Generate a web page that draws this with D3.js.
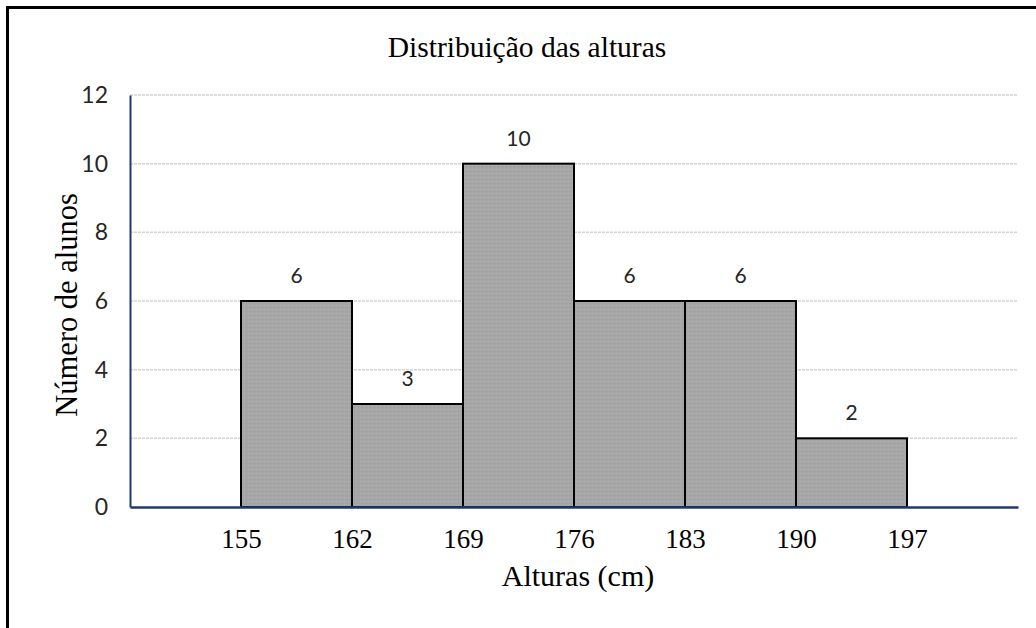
<!DOCTYPE html>
<html>
<head>
<meta charset="utf-8">
<script src="https://cdn.jsdelivr.net/npm/d3@7"></script>
<style>
  body { margin: 0; background: #fff; }
  svg { display: block; }
</style>
</head>
<body>
<svg id="histogram" width="1036" height="628"></svg>
<script>
// bin edges (cm) and number of students per bin
const binEdges = [155, 162, 169, 176, 183, 190, 197];
const counts = [6, 3, 10, 6, 6, 2];
const yTicks = [0, 2, 4, 6, 8, 10, 12];

const svg = d3.select("#histogram");
const margin = { top: 95, right: 18, bottom: 121, left: 130 };
const width = +svg.attr("width") - margin.left - margin.right;
const height = +svg.attr("height") - margin.top - margin.bottom;

const serif = "'Liberation Serif', 'Times New Roman', serif";
const sans = "Lato, 'Noto Sans', sans-serif";

// outer frame (only left and top edges visible in the picture)
svg.append("rect")
    .attr("x", 7.5).attr("y", 7.5)
    .attr("width", 1060).attr("height", 660)
    .attr("fill", "none")
    .attr("stroke", "#000")
    .attr("stroke-width", 3);

// subtle dotted texture for the bars
const pat = svg.append("defs").append("pattern")
    .attr("id", "dots")
    .attr("width", 4).attr("height", 4)
    .attr("patternUnits", "userSpaceOnUse");
pat.append("rect").attr("width", 4).attr("height", 4).attr("fill", "#a6a6a6");
pat.append("rect").attr("x", 0).attr("y", 0).attr("width", 1).attr("height", 1).attr("fill", "#9a9a9a");
pat.append("rect").attr("x", 2).attr("y", 2).attr("width", 1).attr("height", 1).attr("fill", "#b0b0b0");

const chart = svg.append("g")
    .attr("transform", `translate(${margin.left}, ${margin.top})`);

// one empty bin width on each side
const step = binEdges[1] - binEdges[0];
const x = d3.scaleLinear()
    .domain([binEdges[0] - step, binEdges[binEdges.length - 1] + step])
    .range([0, width]);

const y = d3.scaleLinear()
    .domain([0, 12])
    .range([height, 0]);

// gridlines
chart.append("g")
    .selectAll("line")
    .data(yTicks.filter(d => d > 0))
    .join("line")
    .attr("x1", 0).attr("x2", width)
    .attr("y1", d => y(d)).attr("y2", d => y(d))
    .attr("stroke", "#d4d4d4")
    .attr("stroke-width", 1.5)
    .attr("stroke-dasharray", "3,1");

// bars
const data = counts.map((c, i) => ({ x0: binEdges[i], x1: binEdges[i + 1], value: c }));

chart.append("g")
    .selectAll("rect")
    .data(data)
    .join("rect")
    .attr("x", d => x(d.x0))
    .attr("y", d => y(d.value))
    .attr("width", d => x(d.x1) - x(d.x0))
    .attr("height", d => height - y(d.value))
    .attr("fill", "url(#dots)")
    .attr("stroke", "#000")
    .attr("stroke-width", 2);

// data labels
chart.append("g")
    .selectAll("text")
    .data(data)
    .join("text")
    .attr("x", d => x((d.x0 + d.x1) / 2))
    .attr("y", d => y(d.value) - 18)
    .attr("text-anchor", "middle")
    .attr("font-family", sans)
    .attr("font-size", 21)
    .attr("fill", "#262626")
    .text(d => d.value);

// y axis
const yAxis = chart.append("g")
    .call(d3.axisLeft(y).tickValues(yTicks).tickSize(0).tickPadding(22));
yAxis.select(".domain").attr("stroke", "#1f3a70").attr("stroke-width", 2);
yAxis.selectAll("text")
    .attr("font-family", sans)
    .attr("font-size", 23)
    .attr("fill", "#262626");

// x axis
const xAxis = chart.append("g")
    .attr("transform", `translate(0, ${height})`)
    .call(d3.axisBottom(x).tickValues(binEdges).tickSize(0).tickPadding(22));
xAxis.select(".domain").attr("stroke", "#1f3a70").attr("stroke-width", 2.5);
xAxis.selectAll("text")
    .attr("font-family", serif)
    .attr("font-size", 27)
    .attr("fill", "#000");

// title
svg.append("text")
    .attr("x", 527)
    .attr("y", 57)
    .attr("text-anchor", "middle")
    .attr("font-family", serif)
    .attr("font-size", 29.5)
    .text("Distribuição das alturas");

// axis titles
svg.append("text")
    .attr("x", 578)
    .attr("y", 586)
    .attr("text-anchor", "middle")
    .attr("font-family", serif)
    .attr("font-size", 30)
    .text("Alturas (cm)");

svg.append("text")
    .attr("transform", `translate(77, 305) rotate(-90)`)
    .attr("text-anchor", "middle")
    .attr("font-family", serif)
    .attr("font-size", 30.5)
    .text("Número de alunos");
</script>
</body>
</html>
